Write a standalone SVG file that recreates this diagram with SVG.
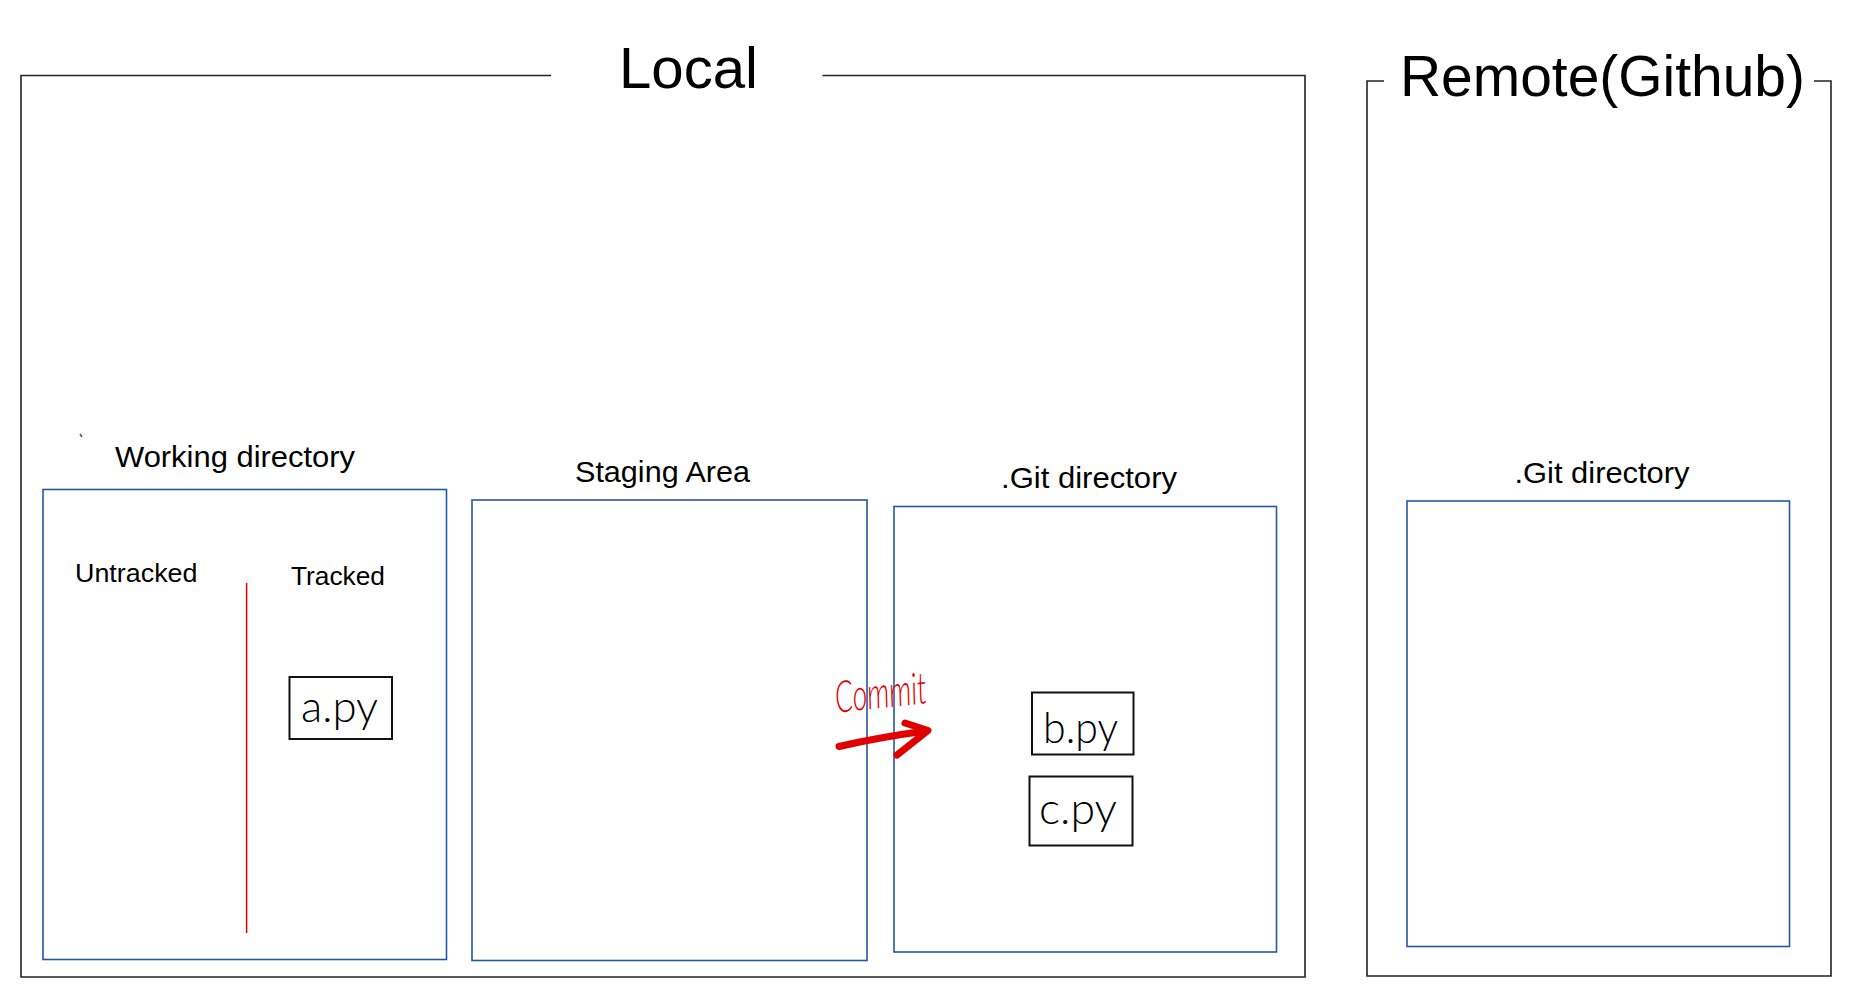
<svg xmlns="http://www.w3.org/2000/svg" width="1850" height="1000" viewBox="0 0 1850 1000">
<style>
.frame{fill:none;stroke:#222;stroke-width:1.6}
.blue{fill:none;stroke:#2457a6;stroke-width:1.6}
.file{fill:#fff;stroke:#111;stroke-width:2}
.title{font-family:"Liberation Sans",Arial,sans-serif;font-size:57px;fill:#000}
.lbl{font-family:"Liberation Sans",Arial,sans-serif;font-size:30px;fill:#000}
.sub{font-family:"Liberation Sans",Arial,sans-serif;font-size:26.5px;fill:#000}
.hand{font-family:Lato,"DejaVu Sans",sans-serif;font-size:44px;fill:#000;font-weight:300}
.red{font-family:Lato,"DejaVu Sans",sans-serif;font-size:44px;fill:#e00000;font-weight:300;font-style:italic}
</style>
<rect width="1850" height="1000" fill="#fff"/>
<g id="local">
<path class="frame" d="M551,75.5 H21 V977 H1305 V75.5 H822.5"/>
<text class="title" x="619" y="88" textLength="139" lengthAdjust="spacingAndGlyphs">Local</text>
</g>
<g id="remote">
<path class="frame" d="M1384,81 H1367 V976 H1831 V81 H1814"/>
<text class="title" x="1400" y="96" textLength="405" lengthAdjust="spacingAndGlyphs">Remote(Github)</text>
</g>
<g id="working-directory">
<path d="M80,434 l2,3" stroke="#2457a6" stroke-width="1.5" fill="none"/>
<text class="lbl" x="115" y="467" textLength="240" lengthAdjust="spacingAndGlyphs">Working directory</text>
<rect class="blue" x="43" y="489.5" width="403.5" height="470"/>
<text class="sub" x="75" y="582" textLength="122.5" lengthAdjust="spacingAndGlyphs">Untracked</text>
<text class="sub" x="291" y="585" textLength="94" lengthAdjust="spacingAndGlyphs">Tracked</text>
<line x1="246.6" y1="583" x2="246.6" y2="933" stroke="#e00000" stroke-width="1.5"/>
</g>
<g id="a-py">
<rect class="file" x="289.5" y="677" width="102.5" height="62"/>
<text class="hand" x="301" y="722" textLength="77" lengthAdjust="spacingAndGlyphs">a.py</text>
</g>
<g id="staging-area">
<text class="lbl" x="575" y="482" textLength="175" lengthAdjust="spacingAndGlyphs">Staging Area</text>
<rect class="blue" x="472" y="500" width="395" height="460.5"/>
</g>
<g id="git-directory-local">
<text class="lbl" x="1001" y="488" textLength="176" lengthAdjust="spacingAndGlyphs">.Git directory</text>
<rect class="blue" x="894" y="506.5" width="382.5" height="445.5"/>
</g>
<g id="b-py">
<rect class="file" x="1032" y="692.5" width="101.5" height="62"/>
<text class="hand" x="1043" y="743" textLength="75" lengthAdjust="spacingAndGlyphs">b.py</text>
</g>
<g id="c-py">
<rect class="file" x="1029.5" y="776.5" width="103" height="69"/>
<text class="hand" x="1039" y="824" textLength="78" lengthAdjust="spacingAndGlyphs">c.py</text>
</g>
<g id="git-directory-remote">
<text class="lbl" x="1514.5" y="483" textLength="175" lengthAdjust="spacingAndGlyphs">.Git directory</text>
<rect class="blue" x="1407" y="501" width="382.5" height="445.5"/>
</g>
<g id="connectors">
<path d="M839,746.5 Q880,737 926,731" fill="none" stroke="#e00000" stroke-width="7" stroke-linecap="round"/>
<path d="M905,723 L928,730.5 L897,755" fill="none" stroke="#e00000" stroke-width="7" stroke-linecap="round" stroke-linejoin="round"/>
<text class="red" x="835" y="708" textLength="92" lengthAdjust="spacingAndGlyphs" transform="rotate(-6 880 695)">Commit</text>
</g>
</svg>
